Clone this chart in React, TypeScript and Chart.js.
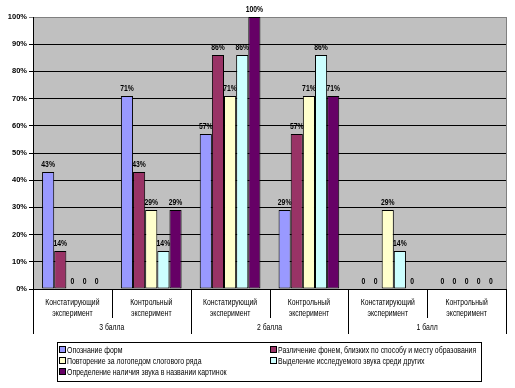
import React, { useEffect, useRef } from "react";
import { Chart, registerables } from "chart.js";

Chart.register(...registerables);

// ---------- data ----------
const categories: string[][] = [
  ["Констатирующий", "эксперимент"],
  ["Контрольный", "эксперимент"],
  ["Констатирующий", "эксперимент"],
  ["Контрольный", "эксперимент"],
  ["Констатирующий", "эксперимент"],
  ["Контрольный", "эксперимент"],
];
const groupLabels = ["3 балла", "2 балла", "1 балл"];
const seriesNames = [
  "Опознание форм",
  "Различение фонем, близких по способу и месту образования",
  "Повторение за логопедом слогового ряда",
  "Выделение исследуемого звука среди других",
  "Определение наличия звука в названии картинок",
];
const opoznanie = [43, 71, 57, 29, 0, 0];
const razlichenie = [14, 43, 86, 57, 0, 0];
const povtorenie = [0, 29, 71, 71, 29, 0];
const vydelenie = [0, 14, 86, 86, 14, 0];
const opredelenie = [0, 29, 100, 71, 0, 0];
const seriesValues = [opoznanie, razlichenie, povtorenie, vydelenie, opredelenie];
const seriesColors = ["#9999FF", "#993366", "#FFFFCC", "#CCFFFF", "#660066"];
const yMin = 0;
const yMax = 100;
const yStep = 10;

const FONT = "'Liberation Sans', Arial, sans-serif";

function narrowText(
  ctx: CanvasRenderingContext2D,
  text: string,
  x: number,
  y: number,
  align: CanvasTextAlign,
  sx: number
) {
  ctx.save();
  ctx.translate(x, y);
  ctx.scale(sx, 1);
  ctx.textAlign = align;
  ctx.fillText(text, 0, 0);
  ctx.restore();
}

const decorPlugin = {
  id: "decor",
  beforeDraw(chart: any) {
    const { ctx, chartArea: a } = chart;
    ctx.save();
    ctx.fillStyle = "#FFFFFF";
    ctx.fillRect(0, 0, chart.width, chart.height);
    ctx.fillStyle = "#C0C0C0";
    ctx.fillRect(a.left, a.top, a.right - a.left, a.bottom - a.top);
    ctx.restore();
  },
  afterDraw(chart: any) {
    const { ctx, chartArea: a } = chart;
    const xs = chart.scales.x;
    ctx.save();
    // right border of plot
    ctx.strokeStyle = "#808080";
    ctx.lineWidth = 1;
    ctx.beginPath();
    ctx.moveTo(Math.round(a.right) + 0.5, a.top);
    ctx.lineTo(Math.round(a.right) + 0.5, a.bottom);
    ctx.stroke();

    // category separators
    const half = (xs.getPixelForValue(1) - xs.getPixelForValue(0)) / 2;
    ctx.strokeStyle = "#000";
    for (let i = 0; i <= categories.length; i++) {
      const x = Math.round(xs.getPixelForValue(i) - half) + 0.5;
      const long = i % 2 === 0;
      ctx.beginPath();
      ctx.moveTo(x, a.bottom);
      ctx.lineTo(x, a.bottom + (long ? 45 : 29));
      ctx.stroke();
    }

    // category labels (two lines) and group labels
    ctx.fillStyle = "#000";
    ctx.font = `9.5px ${FONT}`;
    ctx.textBaseline = "middle";
    (chart.data.labels as string[][]).forEach((lab, i) => {
      const x = xs.getPixelForValue(i);
      lab.forEach((line, li) => narrowText(ctx, line, x, a.bottom + 13 + li * 11, "center", 0.72));
    });
    groupLabels.forEach((g, gi) => {
      const x = xs.getPixelForValue(gi * 2) + half;
      narrowText(ctx, g, x, a.bottom + 38, "center", 0.72);
    });

    // data labels
    ctx.font = `bold 8.5px ${FONT}`;
    ctx.textBaseline = "bottom";
    chart.data.datasets.forEach((ds: any, di: number) => {
      const meta = chart.getDatasetMeta(di);
      meta.data.forEach((el: any, j: number) => {
        const v = ds.data[j];
        const t = v === 0 ? "0" : v + "%";
        narrowText(ctx, t, el.x, el.y - 3, "center", 0.8);
      });
    });

    // legend
    const bx = 57.5, by = 342.5, bw = 424, bh = 39;
    ctx.fillStyle = "#FFFFFF";
    ctx.fillRect(bx, by, bw, bh);
    ctx.strokeStyle = "#000";
    ctx.strokeRect(bx, by, bw, bh);
    const cols = [59, 270];
    const rows = [350, 361, 372];
    ctx.font = `9.5px ${FONT}`;
    ctx.textBaseline = "middle";
    chart.data.datasets.forEach((ds: any, i: number) => {
      const cx = cols[i % 2];
      const cy = rows[Math.floor(i / 2)];
      ctx.fillStyle = ds.backgroundColor;
      ctx.fillRect(cx + 0.5, cy - 3.5, 6, 6);
      ctx.strokeStyle = "#000";
      ctx.strokeRect(cx + 0.5, cy - 3.5, 6, 6);
      ctx.fillStyle = "#000";
      narrowText(ctx, ds.label, cx + 8, cy, "left", 0.73);
    });
    ctx.restore();
  },
};

export default function App() {
  const ref = useRef<HTMLCanvasElement | null>(null);
  useEffect(() => {
    document.body.style.margin = "0";
    const canvas = ref.current!;
    const chart = new Chart(canvas, {
      type: "bar",
      data: {
        labels: categories as any,
        datasets: seriesNames.map((name, i) => ({
          label: name,
          data: seriesValues[i],
          backgroundColor: seriesColors[i],
          borderColor: "#000000",
          borderWidth: 1,
          borderSkipped: false,
          barPercentage: 1,
          categoryPercentage: 0.77,
        })),
      },
      options: {
        responsive: false,
        animation: false,
        devicePixelRatio: 1,
        layout: { padding: { top: 17, right: 9, left: 0, bottom: 0 } },
        plugins: { legend: { display: false }, tooltip: { enabled: false } },
        scales: {
          x: {
            grid: { display: false, drawTicks: false },
            border: { display: false },
            ticks: { display: false, autoSkip: false, maxRotation: 0 },
            afterFit: (s: any) => {
              s.height = 99;
            },
          },
          y: {
            min: yMin,
            max: yMax,
            ticks: {
              stepSize: yStep,
              callback: (v: any) => v + "%",
              font: { family: FONT, size: 7.5, weight: "bold" },
              color: "#000",
              padding: 2,
            },
            grid: {
              color: (c: any) => (c.tick && c.tick.value === yMax ? "#808080" : "#000000"),
              lineWidth: 1,
              tickLength: 4,
              drawTicks: true,
            },
            border: { color: "#000000" },
            afterFit: (s: any) => {
              s.width = 33;
            },
          },
        },
      },
      plugins: [decorPlugin],
    });
    return () => chart.destroy();
  }, []);
  return <canvas ref={ref} width={515} height={388} style={{ display: "block" }} />;
}
